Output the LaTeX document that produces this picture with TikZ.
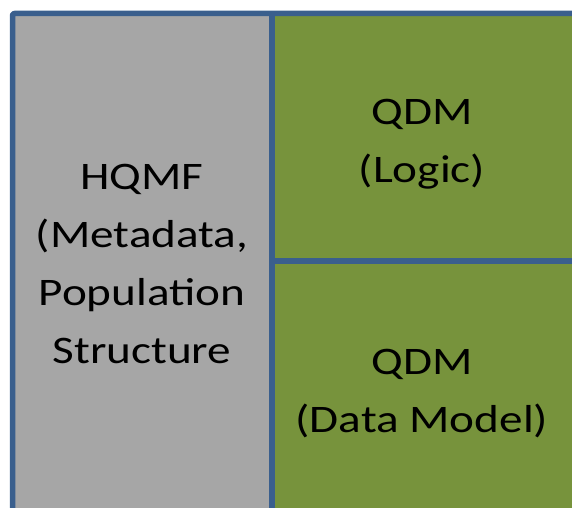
\documentclass[tikz,border=0pt]{standalone}
\usepackage{fontspec}
\setmainfont{Carlito}[FakeStretch=1.21]
\usepackage{xcolor}
\usepackage{tikz}
\usetikzlibrary{positioning}

\definecolor{hqmfgray}{HTML}{A6A6A6}
\definecolor{qdmgreen}{HTML}{77933C}
\definecolor{edgeblue}{HTML}{3A5F8D}

\begin{document}
\begin{tikzpicture}[x=1pt, y=1pt,
        border/.style={draw=edgeblue, line width=5.5pt, line join=round},
        label/.style={align=center, anchor=base, inner sep=0pt,
            font=\fontsize{39pt}{58pt}\selectfont}]
        \useasboundingbox (0,0) rectangle (572,507);
        \clip (0,0) rectangle (572,507);
        % the three boxes
        \fill[hqmfgray] (12.5,-20) rectangle (272,493.5);
        \fill[qdmgreen] (272,246) rectangle (600,493.5);
        \fill[qdmgreen] (272,-20) rectangle (600,246);
        \draw[border, rounded corners=2pt] (12.5,-20) rectangle (600,493.5);
        \draw[border] (272,-20) -- (272,493.5);
        \draw[border] (272,246) -- (600,246);
        % texts (base = last line)
        \node[label] (hqmf) at (142,144) {HQMF\\(Metadata,\\Population\\Structure};
        \node[label] (logic) at (422,325) {QDM\\(Logic)};
        \node[label] (datamodel) at (422,75) {QDM\\(Data Model)};
    \end{tikzpicture}
\end{document}
